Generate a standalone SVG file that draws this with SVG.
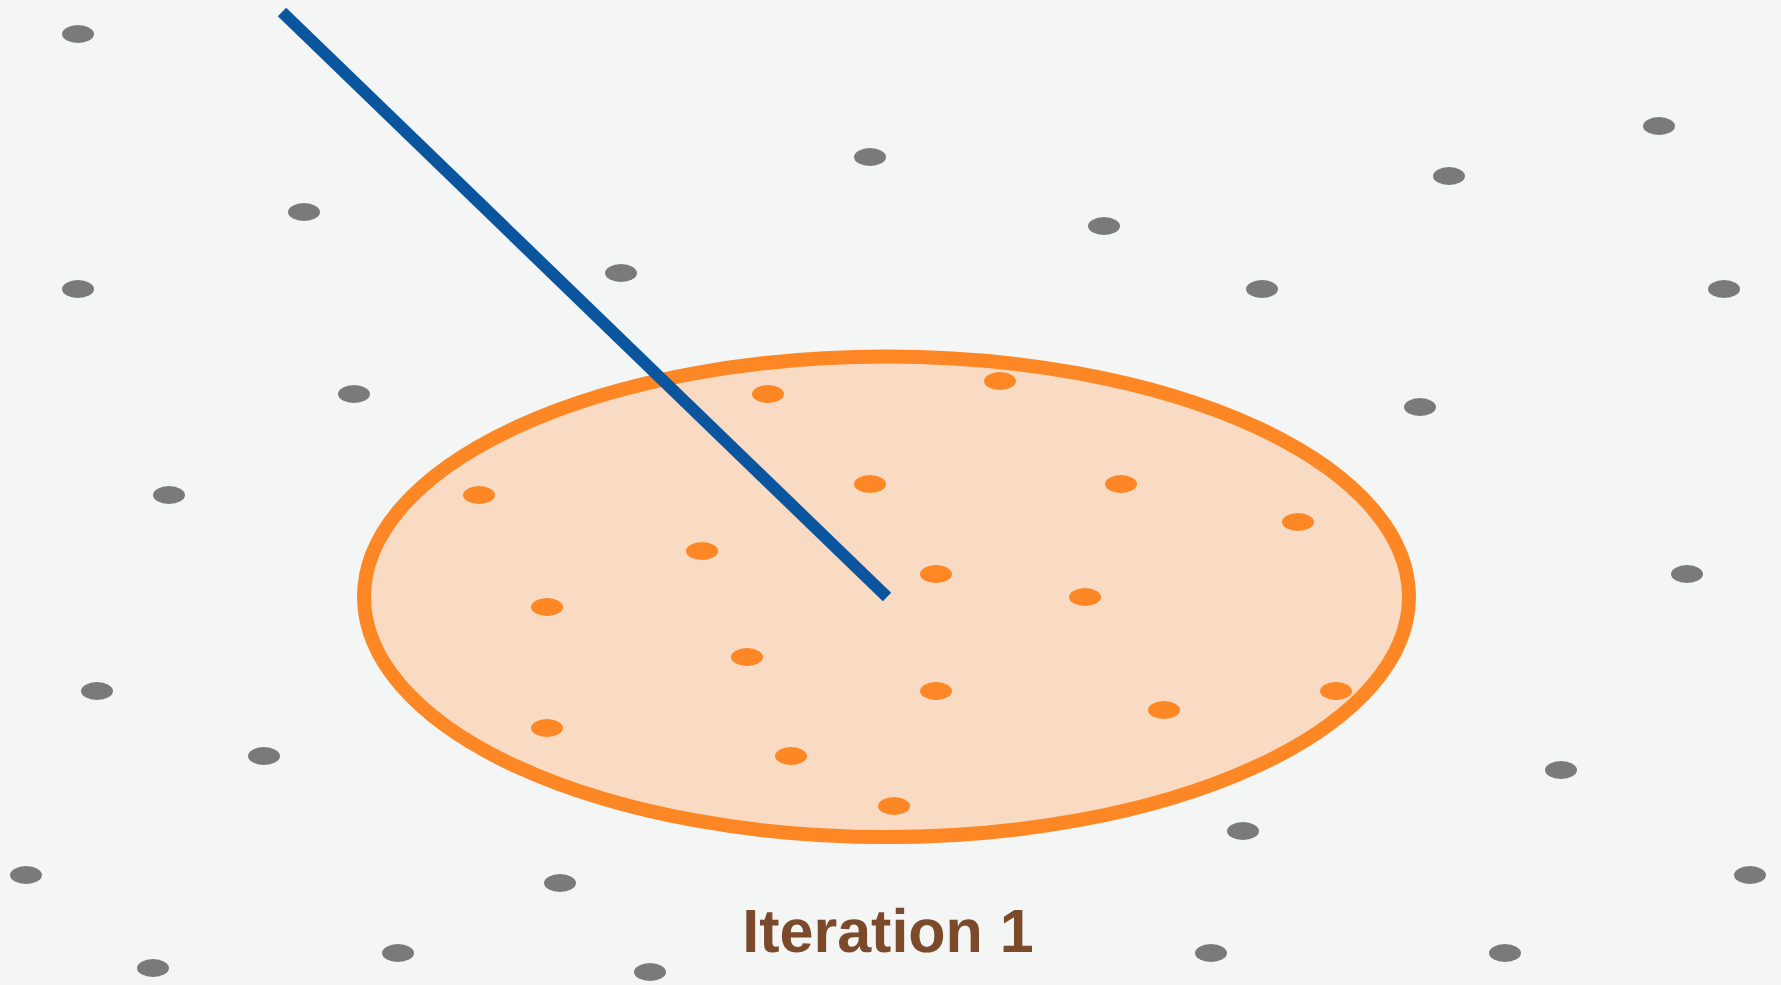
<svg xmlns="http://www.w3.org/2000/svg" width="1781" height="985" viewBox="0 0 1781 985">
<style>
.g{fill:#7A7A7A}
.o{fill:#FD8724}
.t{font-family:"Liberation Sans",Arial,Helvetica,sans-serif;font-weight:700;font-size:61px;fill:#7A4A2B;text-rendering:geometricPrecision}
</style>
<rect width="1781" height="985" fill="#F4F5F5"/>
<g id="region">
<ellipse cx="886.5" cy="596.8" rx="522.5" ry="240.3" fill="#F8DBC2" stroke="#FD8724" stroke-width="14"/>
</g>
<g id="gray-points">
<ellipse class="g" cx="78" cy="34" rx="16" ry="9"/>
<ellipse class="g" cx="870" cy="157" rx="16" ry="9"/>
<ellipse class="g" cx="1659" cy="126" rx="16" ry="9"/>
<ellipse class="g" cx="304" cy="212" rx="16" ry="9"/>
<ellipse class="g" cx="1449" cy="176" rx="16" ry="9"/>
<ellipse class="g" cx="1104" cy="226" rx="16" ry="9"/>
<ellipse class="g" cx="78" cy="289" rx="16" ry="9"/>
<ellipse class="g" cx="621" cy="273" rx="16" ry="9"/>
<ellipse class="g" cx="1262" cy="289" rx="16" ry="9"/>
<ellipse class="g" cx="1724" cy="289" rx="16" ry="9"/>
<ellipse class="g" cx="354" cy="394" rx="16" ry="9"/>
<ellipse class="g" cx="1420" cy="407" rx="16" ry="9"/>
<ellipse class="g" cx="169" cy="495" rx="16" ry="9"/>
<ellipse class="g" cx="1687" cy="574" rx="16" ry="9"/>
<ellipse class="g" cx="97" cy="691" rx="16" ry="9"/>
<ellipse class="g" cx="264" cy="756" rx="16" ry="9"/>
<ellipse class="g" cx="1561" cy="770" rx="16" ry="9"/>
<ellipse class="g" cx="1243" cy="831" rx="16" ry="9"/>
<ellipse class="g" cx="26" cy="875" rx="16" ry="9"/>
<ellipse class="g" cx="560" cy="883" rx="16" ry="9"/>
<ellipse class="g" cx="1750" cy="875" rx="16" ry="9"/>
<ellipse class="g" cx="153" cy="968" rx="16" ry="9"/>
<ellipse class="g" cx="398" cy="953" rx="16" ry="9"/>
<ellipse class="g" cx="650" cy="972" rx="16" ry="9"/>
<ellipse class="g" cx="1211" cy="953" rx="16" ry="9"/>
<ellipse class="g" cx="1505" cy="953" rx="16" ry="9"/>
</g>
<g id="orange-points">
<ellipse class="o" cx="768" cy="394" rx="16" ry="9"/>
<ellipse class="o" cx="1000" cy="381" rx="16" ry="9"/>
<ellipse class="o" cx="479" cy="495" rx="16" ry="9"/>
<ellipse class="o" cx="870" cy="484" rx="16" ry="9"/>
<ellipse class="o" cx="1121" cy="484" rx="16" ry="9"/>
<ellipse class="o" cx="1298" cy="522" rx="16" ry="9"/>
<ellipse class="o" cx="702" cy="551" rx="16" ry="9"/>
<ellipse class="o" cx="936" cy="574" rx="16" ry="9"/>
<ellipse class="o" cx="1085" cy="597" rx="16" ry="9"/>
<ellipse class="o" cx="547" cy="607" rx="16" ry="9"/>
<ellipse class="o" cx="747" cy="657" rx="16" ry="9"/>
<ellipse class="o" cx="936" cy="691" rx="16" ry="9"/>
<ellipse class="o" cx="1336" cy="691" rx="16" ry="9"/>
<ellipse class="o" cx="1164" cy="710" rx="16" ry="9"/>
<ellipse class="o" cx="547" cy="728" rx="16" ry="9"/>
<ellipse class="o" cx="791" cy="756" rx="16" ry="9"/>
<ellipse class="o" cx="894" cy="806" rx="16" ry="9"/>
</g>
<g id="connectors">
<line x1="282" y1="12" x2="887" y2="597" stroke="#0A559E" stroke-width="12"/>
</g>
<g id="label">
<text class="t" x="888" y="952" text-anchor="middle">Iteration 1</text>
</g>
</svg>
